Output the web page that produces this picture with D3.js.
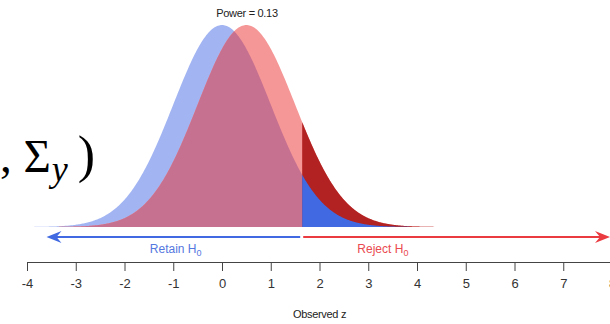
<!DOCTYPE html>
<html>
<head>
<meta charset="utf-8">
<script src="https://cdn.jsdelivr.net/npm/d3@7"></script>
<style>
  html, body { margin: 0; padding: 0; background: #fff; }
  svg { display: block; font-family: "Liberation Sans", Arial, sans-serif; }
</style>
</head>
<body>
<svg id="chart" width="610" height="324"></svg>
<script>
// Distribution parameters (z scale)
const nullMean = 0;          // H0: z ~ N(0, 1)
const altMean = 0.5;         // H1: z ~ N(0.5, 1)
const sd = 1;
const critical = [1.645];    // one-sided cutoff, alpha = 0.05
const powerLabel = ["Power = 0.13"];
const tickValues = [-4, -3, -2, -1, 0, 1, 2, 3, 4, 5, 6, 7, 8];
const regionLabels = ["Retain", "Reject"];

const svg = d3.select("#chart");

const x = d3.scaleLinear().domain([-4, 8]).range([27, 612]);
const y = d3.scaleLinear().domain([0, 0.4]).range([227, 24.5]);

const pdf = (z, m) => Math.exp(-0.5 * ((z - m) / sd) ** 2) / (sd * Math.sqrt(2 * Math.PI));
const grid = (lo, hi, n = 400) => d3.range(n + 1).map(i => lo + (hi - lo) * i / n);

const area = d3.area().x(d => x(d.z)).y0(y(0)).y1(d => y(d.d));

const crit = critical[0];
const nullPts = grid(nullMean - 4, nullMean + 4).map(z => ({ z, d: pdf(z, nullMean) }));
const altPts = grid(altMean - 4, altMean + 4).map(z => ({ z, d: pdf(z, altMean) }));
const overlapPts = grid(altMean - 4, nullMean + 4).map(z => ({ z, d: Math.min(pdf(z, nullMean), pdf(z, altMean)) }));
const nullTail = grid(crit, nullMean + 4, 200).map(z => ({ z, d: pdf(z, nullMean) }));
const altTail = grid(crit, altMean + 4, 200).map(z => ({ z, d: pdf(z, altMean) }));

// Full densities, their overlap, then the rejection-region tails
svg.append("path").attr("d", area(nullPts)).attr("fill", "#a2b5f2");
svg.append("path").attr("d", area(altPts)).attr("fill", "#f69797");
svg.append("path").attr("d", area(overlapPts)).attr("fill", "#c77191");
svg.append("path").attr("d", area(altTail)).attr("fill", "#b22222");
svg.append("path").attr("d", area(nullTail)).attr("fill", "#4169e1");

// Decision arrows
const arrowY = 237;
function arrowHead(tipX, dir, color) {
  const L = 15, W = 6, notch = 5;
  const p = d3.path();
  p.moveTo(tipX, arrowY);
  p.lineTo(tipX + dir * L, arrowY - W);
  p.lineTo(tipX + dir * (L - notch), arrowY);
  p.lineTo(tipX + dir * L, arrowY + W);
  p.closePath();
  svg.append("path").attr("d", p.toString()).attr("fill", color);
}
svg.append("line").attr("x1", x(-3.6) + 6).attr("x2", x(crit) - 2)
  .attr("y1", arrowY).attr("y2", arrowY).attr("stroke", "#4169e1").attr("stroke-width", 2.2);
arrowHead(x(-3.6), 1, "#4169e1");
svg.append("line").attr("x1", x(crit) + 1).attr("x2", 604)
  .attr("y1", arrowY).attr("y2", arrowY).attr("stroke", "#ea3b41").attr("stroke-width", 2.2);
arrowHead(610, -1, "#ea3b41");

// Region labels with H subscript 0
function regionText(cx, label, color) {
  const t = svg.append("text").attr("x", cx).attr("y", 253).attr("text-anchor", "middle")
    .attr("fill", color).attr("font-size", 12);
  t.append("tspan").text(label + " H");
  t.append("tspan").attr("font-size", 9).attr("dy", 3).text("0");
}
regionText(x(-0.95), regionLabels[0], "#5578e0");
regionText(x(3.3), regionLabels[1], "#ea4a50");

// Axis
const axis = d3.axisBottom(x).tickValues(tickValues).tickSize(9).tickPadding(8).tickFormat(d => String(d));
const gAxis = svg.append("g").attr("transform", "translate(0,262)").call(axis);
gAxis.attr("font-family", null);
gAxis.select(".domain").attr("stroke", "#444").attr("d", `M${x(-4)},0.5H${x(8)}`);
gAxis.selectAll(".tick line").attr("stroke", "#444");
gAxis.selectAll(".tick text").attr("fill", "#333")
  .style("font-size", "13px").style("font-family", "'Liberation Sans', Arial, sans-serif");

svg.append("text").attr("x", x(2)).attr("y", 318).attr("text-anchor", "middle")
  .attr("fill", "#222").attr("font-size", 11).attr("letter-spacing", -0.3).text("Observed z");

svg.append("text").attr("x", 247).attr("y", 17).attr("text-anchor", "middle")
  .attr("fill", "#222").attr("font-size", 11).attr("letter-spacing", -0.3).text(powerLabel[0]);

// Math fragment at left edge: ", Σ_y )"
const m = svg.append("text").attr("x", 0).attr("y", 172).attr("fill", "#000")
  .style("font-family", "'Liberation Serif', 'DejaVu Serif', serif").style("font-size", "47px");
m.append("tspan").text(", Σ");
m.append("tspan").style("font-style", "italic").style("font-size", "36px").attr("dy", 9).attr("dx", 1).text("y");
m.append("tspan").attr("dy", -9).attr("dx", 10).style("font-size", "52px").text(")");
</script>
</body>
</html>
